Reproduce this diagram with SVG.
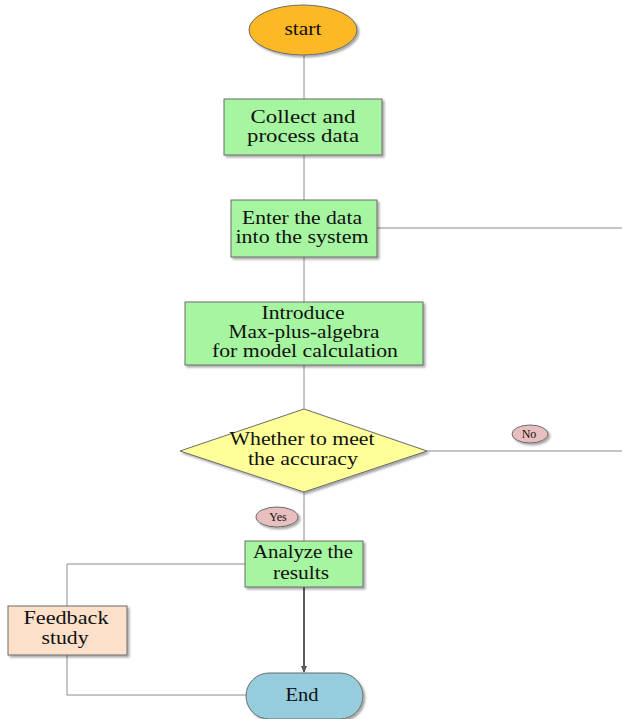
<svg xmlns="http://www.w3.org/2000/svg" width="622" height="719" viewBox="0 0 622 719">
<style>
.t{font-family:"Liberation Serif","Times New Roman",serif;font-size:18px;fill:#111;text-anchor:middle}
.s{font-family:"Liberation Serif","Times New Roman",serif;font-size:12px;fill:#111;text-anchor:middle}
.n{stroke:#6a6a6a;stroke-width:1}
.c{stroke:#8c8c8c;stroke-width:1;fill:none}
.green{fill:#A6F5A0}
</style>
<defs>
<filter id="sh" x="-10%" y="-10%" width="130%" height="130%">
<feGaussianBlur in="SourceAlpha" stdDeviation="1"/>
<feOffset dx="2" dy="2" result="o"/>
<feComponentTransfer><feFuncA type="linear" slope="0.35"/></feComponentTransfer>
<feMerge><feMergeNode/><feMergeNode in="SourceGraphic"/></feMerge>
</filter>
<marker id="arr" markerWidth="8" markerHeight="8" refX="6" refY="4" orient="auto" markerUnits="userSpaceOnUse">
<path d="M0,1 L7,4 L0,7 Z" fill="#555"/>
</marker>
</defs>
<g id="connectors">
<line class="c" x1="304" y1="55" x2="304" y2="100"/>
<line class="c" x1="304" y1="155" x2="304" y2="200"/>
<line class="c" x1="304" y1="257" x2="304" y2="302"/>
<line class="c" x1="304" y1="365" x2="304" y2="409"/>
<line class="c" x1="304" y1="492" x2="304" y2="541"/>
<line class="c" x1="377" y1="228" x2="622" y2="228"/>
<line class="c" x1="427" y1="451" x2="622" y2="451"/>
<polyline class="c" points="245,564 67,564 67,607"/>
<polyline class="c" points="67,655 67,695 246,695"/>
<line x1="304" y1="587" x2="304" y2="672" stroke="#5a5a5a" stroke-width="2" marker-end="url(#arr)"/>
</g>
<g id="start">
<ellipse class="n" cx="303" cy="30" rx="54" ry="25" fill="#FDB827" filter="url(#sh)"/>
<text class="t" x="303" y="35" textLength="37" lengthAdjust="spacingAndGlyphs">start</text>
</g>
<g id="collect">
<rect class="n green" x="224" y="99" width="158" height="56" filter="url(#sh)"/>
<text class="t" x="303" y="123" textLength="105" lengthAdjust="spacingAndGlyphs">Collect and</text>
<text class="t" x="303" y="142" textLength="112" lengthAdjust="spacingAndGlyphs">process data</text>
</g>
<g id="enter">
<rect class="n green" x="231" y="200" width="146" height="57" filter="url(#sh)"/>
<text class="t" x="302" y="224" textLength="120" lengthAdjust="spacingAndGlyphs">Enter the data</text>
<text class="t" x="302" y="243" textLength="133" lengthAdjust="spacingAndGlyphs">into the system</text>
</g>
<g id="introduce">
<rect class="n green" x="185" y="302" width="238" height="63" filter="url(#sh)"/>
<text class="t" x="303" y="319" textLength="83" lengthAdjust="spacingAndGlyphs">Introduce</text>
<text class="t" x="304" y="338" textLength="151" lengthAdjust="spacingAndGlyphs">Max-plus-algebra</text>
<text class="t" x="305" y="357" textLength="186" lengthAdjust="spacingAndGlyphs">for model calculation</text>
</g>
<g id="decision">
<polygon class="n" points="304,409 427,451 304,492 180,451" fill="#FFFF99" filter="url(#sh)"/>
<text class="t" x="302" y="445" textLength="145" lengthAdjust="spacingAndGlyphs">Whether to meet</text>
<text class="t" x="303" y="465" textLength="110" lengthAdjust="spacingAndGlyphs">the accuracy</text>
</g>
<g id="no">
<ellipse class="n" cx="530" cy="434" rx="18" ry="9" fill="#E8BEBE" filter="url(#sh)"/>
<text class="s" x="529" y="438">No</text>
</g>
<g id="yes">
<ellipse class="n" cx="277" cy="517" rx="21" ry="10" fill="#E8BEBE" filter="url(#sh)"/>
<text class="s" x="278" y="521">Yes</text>
</g>
<g id="analyze">
<rect class="n green" x="245" y="541" width="118" height="46" filter="url(#sh)"/>
<text class="t" x="303" y="558" textLength="100" lengthAdjust="spacingAndGlyphs">Analyze the</text>
<text class="t" x="301" y="579" textLength="56" lengthAdjust="spacingAndGlyphs">results</text>
</g>
<g id="feedback">
<rect class="n" x="8" y="606" width="119" height="49" fill="#FCE0CA" filter="url(#sh)"/>
<text class="t" x="66" y="624" textLength="85" lengthAdjust="spacingAndGlyphs">Feedback</text>
<text class="t" x="65" y="644" textLength="47" lengthAdjust="spacingAndGlyphs">study</text>
</g>
<g id="end">
<rect class="n" x="246" y="673" width="117" height="46" rx="23" ry="23" fill="#96CDDC" filter="url(#sh)"/>
<text class="t" x="302" y="701" textLength="33" lengthAdjust="spacingAndGlyphs">End</text>
</g>
</svg>
